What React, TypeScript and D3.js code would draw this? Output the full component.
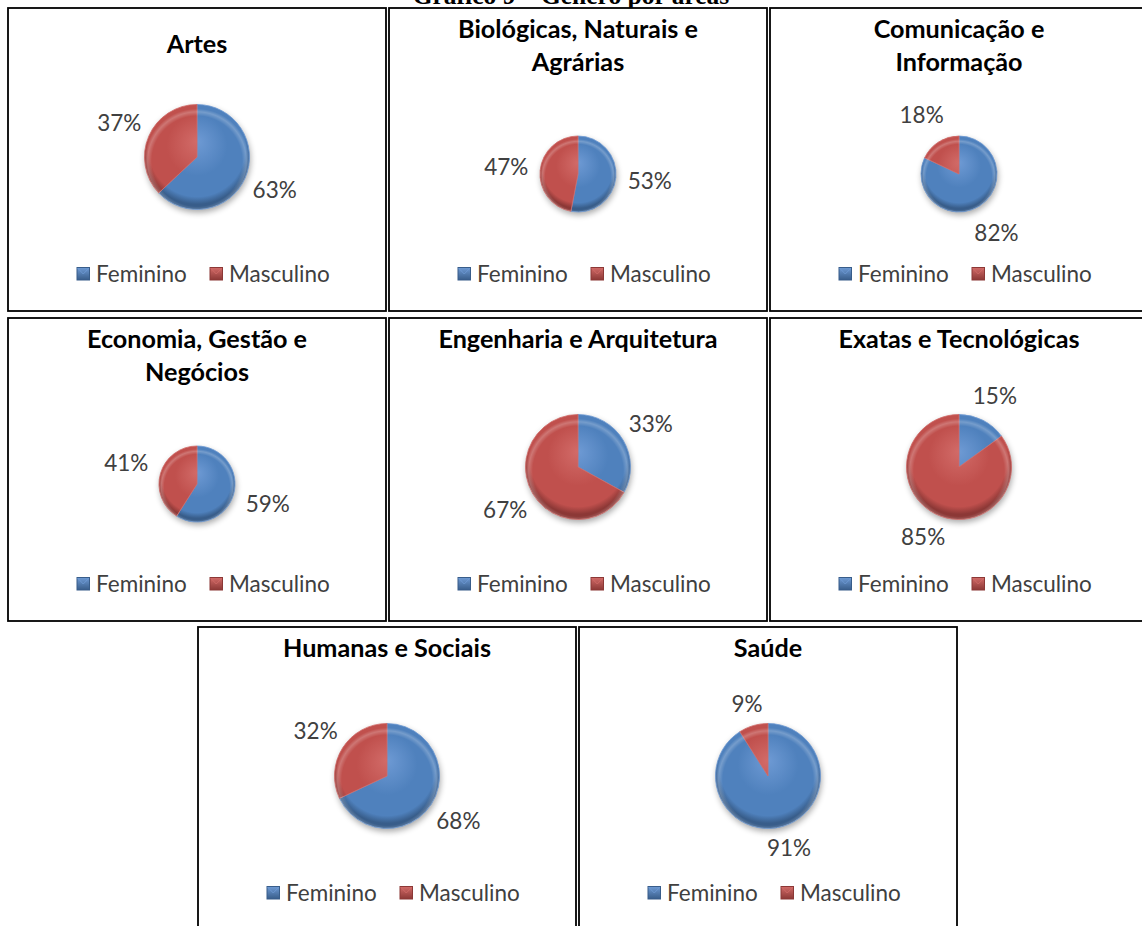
import React from "react";
import * as d3 from "d3";

// ---------- data ----------
const categories = ["Feminino", "Masculino"];
const areaTitles: string[][] = [
  ["Artes"],
  ["Biológicas, Naturais e", "Agrárias"],
  ["Comunicação e", "Informação"],
  ["Economia, Gestão e", "Negócios"],
  ["Engenharia e Arquitetura"],
  ["Exatas e Tecnológicas"],
  ["Humanas e Sociais"],
  ["Saúde"],
];
const feminino = [63, 53, 82, 59, 33, 15, 68, 91];
const masculino = [37, 47, 18, 41, 67, 85, 32, 9];
const pageTitle = "Gráfico 9 – Gênero por áreas";

// ---------- layout ----------
const W = 1142;
const H = 926;
const PW = 378;
const PH = 303;
const panels = [
  { x: 8, y: 8, titleY: 45 },
  { x: 389, y: 8, titleY: 30 },
  { x: 770, y: 8, titleY: 30 },
  { x: 8, y: 318, titleY: 30 },
  { x: 389, y: 318, titleY: 30 },
  { x: 770, y: 318, titleY: 30 },
  { x: 198, y: 627, titleY: 30 },
  { x: 579, y: 627, titleY: 30 },
];

const COLORS = { blue: "#4F81BD", red: "#C0504D" };
const sliceColors = [COLORS.blue, COLORS.red];
const darker = ["#385D8A", "#8C3836"];
const lighter = ["#6E9AD4", "#D26B68"];
const FONT = "Lato, 'Open Sans', sans-serif";
const LABEL_SIZE = 22.5;
const TITLE_SIZE = 25.2;

function labelPos(angle: number, r: number, w: number, h: number, gap: number) {
  const dx = Math.sin(angle);
  const dy = -Math.cos(angle);
  const target = r + gap;
  let lo = 0, hi = r + 200;
  for (let k = 0; k < 40; k++) {
    const d = (lo + hi) / 2;
    const cx = dx * d, cy = dy * d;
    const nx = Math.max(0, Math.abs(cx) - w / 2);
    const ny = Math.max(0, Math.abs(cy) - h / 2);
    const dist = Math.hypot(nx, ny);
    if (dist < target) lo = d; else hi = d;
  }
  const d = (lo + hi) / 2;
  return [dx * d, dy * d];
}

function Panel({ i }: { i: number }) {
  const p = panels[i];
  const lines = areaTitles[i];
  const twoLine = lines.length > 1;
  const r = twoLine ? 38 : 52.5;
  const cx = PW / 2;
  const cy = twoLine ? 166 : 149;
  const values = [feminino[i], masculino[i]];
  const pie = d3.pie<number>().sort(null).value((d) => d).startAngle(0).endAngle(2 * Math.PI);
  const arcs = pie(values);
  const arc = d3.arc<d3.PieArcDatum<number>>().innerRadius(0).outerRadius(r);
  const total = d3.sum(values);
  const legendY = 266;
  const legendItems = [
    { x: 69, label: categories[0] },
    { x: 202, label: categories[1] },
  ];
  return (
    <g transform={`translate(${p.x},${p.y})`}>
      <defs>
        {sliceColors.map((c, k) => (
          <radialGradient
            key={k}
            id={`grad-${i}-${k}`}
            gradientUnits="userSpaceOnUse"
            cx={0}
            cy={-r * 0.15}
            r={r * 1.05}
            fx={0}
            fy={-r * 0.3}
          >
            <stop offset="0%" stopColor={lighter[k]} />
            <stop offset="55%" stopColor={c} />
            <stop offset="88%" stopColor={c} />
            <stop offset="100%" stopColor={darker[k]} />
          </radialGradient>
        ))}
        <radialGradient id={`rim-${i}`} gradientUnits="userSpaceOnUse" cx={0} cy={r * 0.08} r={r}>
          <stop offset="0%" stopColor="#fff" stopOpacity={0} />
          <stop offset="86%" stopColor="#fff" stopOpacity={0} />
          <stop offset="94%" stopColor="#fff" stopOpacity={0.22} />
          <stop offset="100%" stopColor="#fff" stopOpacity={0} />
        </radialGradient>
      </defs>
      <rect x={0} y={0} width={PW} height={PH} fill="#fff" stroke="#000" strokeWidth={1.8} />
      {lines.map((t, k) => (
        <text
          key={k}
          x={PW / 2}
          y={p.titleY + k * 33}
          textAnchor="middle"
          fontFamily={FONT}
          fontWeight={700}
          fontSize={TITLE_SIZE}
          fill="#000"
        >
          {t}
        </text>
      ))}
      <g transform={`translate(${cx},${cy})`}>
        <circle r={r} cx={1} cy={3} fill="#000" opacity={0.35} filter="url(#pieShadow)" />
        {arcs.map((a, k) => (
          <path
            key={k}
            d={arc(a) || ""}
            fill={`url(#grad-${i}-${k})`}
            stroke={lighter[k]}
            strokeWidth={0.8}
          />
        ))}
        <circle r={r} fill={`url(#rim-${i})`} />
        {arcs.map((a, k) => {
          const mid = (a.startAngle + a.endAngle) / 2;
          const txt = `${Math.round((a.value / total) * 100)}%`;
          const w = (txt.length - 1) * 11.6 + 16.4;
          const [lx, ly] = labelPos(mid, r, w, 20, twoLine ? 14 : 10);
          return (
            <text
              key={`l${k}`}
              x={lx}
              y={ly}
              dy="0.35em"
              textAnchor="middle"
              fontFamily={FONT}
              fontSize={LABEL_SIZE}
              fill="#404040"
            >
              {txt}
            </text>
          );
        })}
      </g>
      {legendItems.map((it, k) => (
        <g key={k} transform={`translate(${it.x},${legendY})`}>
          <rect x={0} y={-6.5} width={12.5} height={12.5} fill={`url(#leg-${k})`} stroke={darker[k]} strokeWidth={1} />
          <path d={`M0.5,-6 L6.25,0 L12,-6`} fill="none" stroke={lighter[k]} strokeWidth={1} opacity={0.8} />
          <text x={19} y={0} dy="0.35em" fontFamily={FONT} fontSize={LABEL_SIZE} fill="#404040">
            {it.label}
          </text>
        </g>
      ))}
    </g>
  );
}

export default function App() {
  return (
    <svg
      width={W}
      height={H}
      viewBox={`0 0 ${W} ${H}`}
      style={{ position: "absolute", left: 0, top: 0, display: "block" }}
    >
      <defs>
        <filter id="pieShadow" x="-50%" y="-50%" width="200%" height="200%">
          <feGaussianBlur stdDeviation={3} />
        </filter>
        {sliceColors.map((c, k) => (
          <linearGradient key={k} id={`leg-${k}`} x1="0" y1="0" x2="0" y2="1">
            <stop offset="0%" stopColor={lighter[k]} />
            <stop offset="100%" stopColor={darker[k]} />
          </linearGradient>
        ))}
      </defs>
      <rect x={0} y={0} width={W} height={H} fill="#fff" />
      <text
        x={571}
        y={3.5}
        textAnchor="middle"
        fontFamily="'Liberation Serif', 'Times New Roman', serif"
        fontWeight={700}
        fontSize={25.5}
        fill="#000"
      >
        {pageTitle}
      </text>
      {panels.map((_, i) => (
        <Panel key={i} i={i} />
      ))}
    </svg>
  );
}
